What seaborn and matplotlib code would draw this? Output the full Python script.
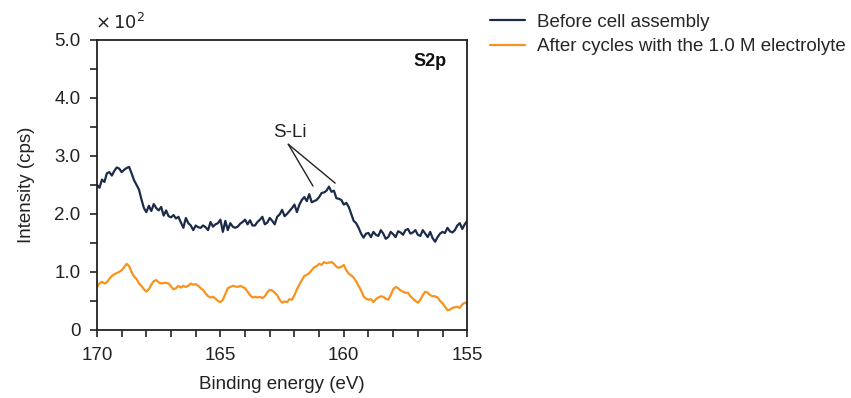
import numpy as np
import pandas as pd
import seaborn as sns
import matplotlib.pyplot as plt
from matplotlib.ticker import MultipleLocator, FuncFormatter

# binding energy axis, 170 -> 155 eV in 0.1 eV steps
energy = np.round(np.linspace(170, 155, 151), 1)

# intensity in units of 10^2 cps
before = [
    2.50, 2.45, 2.59, 2.55, 2.70, 2.72, 2.66, 2.74, 2.80, 2.78,
    2.72, 2.76, 2.79, 2.81, 2.70, 2.58, 2.50, 2.42, 2.25, 2.10,
    2.03, 2.14, 2.05, 2.17, 2.10, 2.06, 2.12, 1.97, 2.06, 1.96,
    1.94, 1.98, 1.92, 1.95, 1.85, 1.76, 1.93, 1.84, 1.80, 1.72,
    1.80, 1.77, 1.76, 1.80, 1.77, 1.72, 1.86, 1.78, 1.82, 1.84,
    1.90, 1.69, 1.88, 1.72, 1.84, 1.78, 1.76, 1.78, 1.83, 1.86,
    1.90, 1.82, 1.89, 1.80, 1.80, 1.86, 1.90, 1.95, 1.82, 1.85,
    1.93, 1.88, 1.82, 1.95, 1.99, 2.07, 1.96, 2.00, 2.05, 2.10,
    2.16, 2.03, 2.16, 2.24, 2.29, 2.22, 2.34, 2.20, 2.22, 2.24,
    2.29, 2.36, 2.37, 2.40, 2.47, 2.38, 2.40, 2.27, 2.26, 2.24,
    2.16, 2.19, 2.12, 2.00, 1.88, 1.84, 1.76, 1.66, 1.59, 1.66,
    1.67, 1.60, 1.69, 1.64, 1.62, 1.72, 1.66, 1.57, 1.60, 1.69,
    1.65, 1.60, 1.70, 1.68, 1.64, 1.72, 1.74, 1.66, 1.68, 1.72,
    1.64, 1.62, 1.72, 1.66, 1.60, 1.69, 1.58, 1.52, 1.60, 1.66,
    1.69, 1.67, 1.76, 1.70, 1.68, 1.72, 1.80, 1.84, 1.74, 1.82,
    1.88,
]
after = [
    0.74, 0.80, 0.83, 0.80, 0.82, 0.88, 0.93, 0.96, 0.98, 1.00,
    1.03, 1.08, 1.14, 1.10, 1.00, 0.92, 0.88, 0.80, 0.76, 0.70,
    0.66, 0.70, 0.78, 0.84, 0.86, 0.82, 0.80, 0.81, 0.81, 0.80,
    0.75, 0.70, 0.72, 0.76, 0.73, 0.76, 0.74, 0.76, 0.80, 0.78,
    0.79, 0.76, 0.72, 0.69, 0.63, 0.58, 0.56, 0.57, 0.54, 0.50,
    0.48, 0.52, 0.62, 0.72, 0.74, 0.76, 0.75, 0.74, 0.76, 0.74,
    0.72, 0.66, 0.60, 0.56, 0.57, 0.56, 0.57, 0.55, 0.58, 0.65,
    0.69, 0.68, 0.64, 0.60, 0.52, 0.47, 0.49, 0.48, 0.53, 0.52,
    0.60, 0.70, 0.78, 0.86, 0.93, 0.95, 0.98, 1.03, 1.08, 1.10,
    1.14, 1.12, 1.17, 1.15, 1.16, 1.17, 1.14, 1.09, 1.07, 1.09,
    1.12, 1.03, 0.97, 0.94, 0.90, 0.84, 0.76, 0.68, 0.58, 0.54,
    0.52, 0.53, 0.48, 0.53, 0.56, 0.58, 0.57, 0.54, 0.52, 0.60,
    0.70, 0.74, 0.72, 0.68, 0.66, 0.64, 0.64, 0.58, 0.54, 0.50,
    0.47, 0.52, 0.60, 0.66, 0.64, 0.60, 0.58, 0.58, 0.56, 0.50,
    0.46, 0.40, 0.34, 0.35, 0.38, 0.39, 0.40, 0.38, 0.44, 0.47,
    0.45,
]

labels = ["Before cell assembly", "After cycles with the 1.0 M electrolyte"]
colors = ["#1c2b4a", "#f7931e"]

df = pd.DataFrame({"energy": np.concatenate([energy, energy]),
                   "intensity": before + after,
                   "sample": [labels[0]] * len(energy) + [labels[1]] * len(energy)})

sns.set_style("ticks")
plt.rcParams["font.family"] = ["Liberation Sans", "DejaVu Sans"]

fig = plt.figure(figsize=(8.51, 3.98), dpi=100)
ax = fig.add_axes([0.114, 0.171, 0.435, 0.729])

sns.lineplot(data=df, x="energy", y="intensity", hue="sample",
             palette=colors, linewidth=1.6, ax=ax, legend=False)

ax.set_xlim(170, 155)
ax.set_ylim(0, 5.0)
ax.xaxis.set_major_locator(MultipleLocator(5))
ax.xaxis.set_minor_locator(MultipleLocator(1))
ax.yaxis.set_major_locator(MultipleLocator(1))
ax.yaxis.set_minor_locator(MultipleLocator(0.5))
ax.yaxis.set_major_formatter(FuncFormatter(lambda v, p: "0" if v == 0 else f"{v:.1f}"))

for s in ax.spines.values():
    s.set_visible(True)
    s.set_color("#222222")
    s.set_linewidth(1.3)
ax.tick_params(which="both", direction="out", color="#222222", width=1.2,
               top=False, right=False)
ax.tick_params(which="major", length=5, labelsize=13.5, colors="#222222", pad=7)
ax.tick_params(which="minor", length=5)

ax.set_xlabel("Binding energy (eV)", fontsize=13.5, color="#222222", labelpad=9)
ax.set_ylabel("Intensity (cps)", fontsize=13.5, color="#222222", labelpad=14)

ax.text(-0.005, 1.025, r"$\times\,10^2$", transform=ax.transAxes, fontsize=13,
        color="#222222", ha="left", va="bottom")
ax.text(0.945, 0.925, "S2p", transform=ax.transAxes, fontsize=13,
        fontweight="bold", ha="right", va="center", color="#111111")

# S-Li label with two leader lines
ax.text(162.2, 3.4, "S-Li", fontsize=13.5, ha="center", va="center", color="#222222")
for peak in [(161.25, 2.48), (160.35, 2.53)]:
    ax.annotate("", xy=peak, xytext=(162.25, 3.2),
                arrowprops=dict(arrowstyle="-", color="#222222", lw=1.0,
                                shrinkA=0, shrinkB=0))

handles = [plt.Line2D([], [], color=c, lw=1.6) for c in colors]
fig.legend(handles, labels, loc="upper left", bbox_to_anchor=(0.567, 0.984),
           frameon=False, fontsize=13.5, handlelength=1.85, handletextpad=0.65,
           labelspacing=0.38, borderpad=0.4, borderaxespad=0)

fig.savefig("out.png", dpi=100)
